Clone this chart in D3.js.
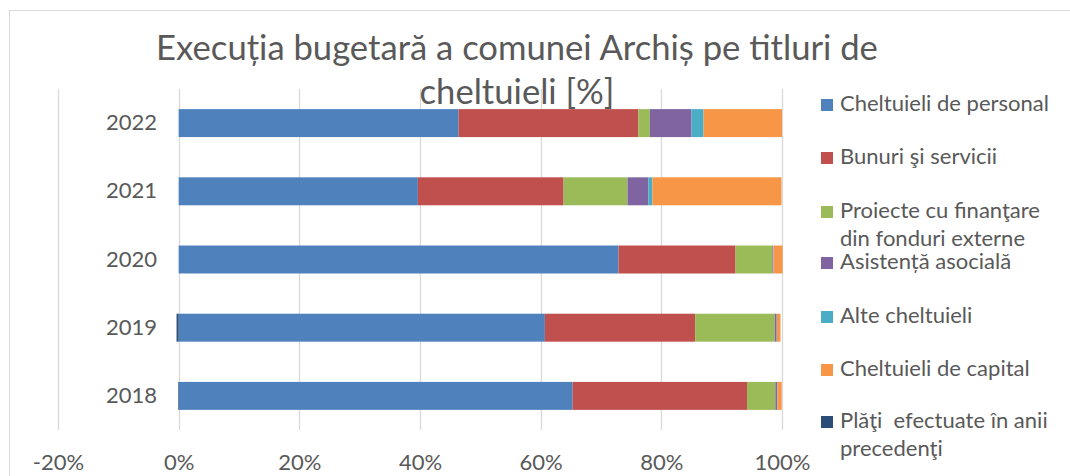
<!DOCTYPE html>
<html>
<head>
<meta charset="utf-8">
<script src="https://cdn.jsdelivr.net/npm/d3@7"></script>
<style>
  html, body { margin: 0; padding: 0; background: #fff; }
  svg { display: block; }
  text { font-family: Lato, "Noto Sans", sans-serif; fill: #595959; }
</style>
</head>
<body>
<svg id="chart" width="1070" height="476"></svg>
<script>
// ---- data ----
const years = ["2018", "2019", "2020", "2021", "2022"];
const seriesNames = [
  "Cheltuieli de personal",
  "Bunuri şi servicii",
  "Proiecte cu finanţare din fonduri externe",
  "Asistență asocială",
  "Alte cheltuieli",
  "Cheltuieli de capital",
  "Plăţi  efectuate în anii precedenţi"
];
const legendLines = [
  ["Cheltuieli de personal"],
  ["Bunuri şi servicii"],
  ["Proiecte cu finanţare", "din fonduri externe"],
  ["Asistență asocială"],
  ["Alte cheltuieli"],
  ["Cheltuieli de capital"],
  ["Plăţi  efectuate în anii", "precedenţi"]
];
const personal  = [65.3, 60.7, 72.9, 39.65, 46.4];
const bunuri    = [28.9, 24.9, 19.4, 24.15, 29.8];
const proiecte  = [4.7, 13.2, 6.1, 10.6, 1.9];
const asistenta = [0.3, 0.3, 0.15, 3.45, 6.9];
const alte      = [0.05, 0.05, 0.05, 0.67, 2.0];
const capital   = [0.7, 0.6, 1.5, 21.4, 13.0];
const plati     = [-0.1, -0.35, 0, 0, 0];
const xTicks = [-20, 0, 20, 40, 60, 80, 100];
const titleLines = ["Execuția bugetară a comunei Archiș pe titluri de", "cheltuieli [%]"];
const colors = ["#4F81BD", "#C0504D", "#9BBB59", "#8064A2", "#4BACC6", "#F79646", "#2C4D75"];

// ---- build table ----
const seriesArrays = [personal, bunuri, proiecte, asistenta, alte, capital, plati];
const table = years.map((y, i) => {
  const row = { year: y };
  seriesNames.forEach((s, k) => row[s] = seriesArrays[k][i]);
  return row;
});
const stacked = d3.stack().keys(seriesNames).offset(d3.stackOffsetDiverging)(table);

// ---- layout ----
const svg = d3.select("#chart");
const plot = { left: 58, right: 782, top: 89, bottom: 430 };

svg.append("rect")
  .attr("x", 9.5).attr("y", 10.5).attr("width", 1100).attr("height", 500)
  .attr("fill", "none").attr("stroke", "#D9D9D9").attr("stroke-width", 1);

const x = d3.scaleLinear().domain([-20, 100]).range([plot.left, plot.right]);
const y = d3.scaleBand().domain(years.slice().reverse())
  .range([plot.top, plot.bottom]).paddingInner(0.59).paddingOuter(0.295);

// gridlines
svg.append("g").selectAll("line").data(xTicks).join("line")
  .attr("x1", d => Math.round(x(d)) + 0.5).attr("x2", d => Math.round(x(d)) + 0.5)
  .attr("y1", plot.top).attr("y2", plot.bottom)
  .attr("stroke", "#D9D9D9").attr("stroke-width", 1.3);

// bars
svg.append("g").selectAll("g").data(stacked).join("g")
  .attr("fill", (d, i) => colors[i])
  .selectAll("rect").data(d => d).join("rect")
  .attr("x", d => x(Math.min(d[0], d[1])))
  .attr("width", d => Math.abs(x(d[1]) - x(d[0])))
  .attr("y", d => y(d.data.year))
  .attr("height", y.bandwidth());

// axes
const xAxis = svg.append("g").attr("transform", `translate(0,${plot.bottom})`)
  .call(d3.axisBottom(x).tickValues(xTicks).tickFormat(d => d + "%").tickSize(0).tickPadding(24));
xAxis.select(".domain").remove();
xAxis.selectAll("text").attr("font-size", 19).attr("fill", "#595959")
  .style("font-family", "Lato, 'Noto Sans', sans-serif");

const yAxis = svg.append("g").attr("transform", `translate(${plot.left + 99},0)`)
  .call(d3.axisLeft(y).tickSize(0).tickPadding(0));
yAxis.select(".domain").remove();
yAxis.selectAll("text").attr("font-size", 19).attr("fill", "#595959")
  .style("font-family", "Lato, 'Noto Sans', sans-serif");

// title
const title = svg.append("g");
titleLines.forEach((t, i) => {
  title.append("text").attr("x", 517).attr("y", 60 + i * 44)
    .attr("text-anchor", "middle").attr("font-size", 32).text(t);
});
(function () {
  const first = title.select("text").node();
  const w = first.getComputedTextLength();
  const fs = 32 * 722 / w;
  title.selectAll("text").attr("font-size", fs);
})();

// legend
const legendY = [111, 164, 218, 269, 323, 376, 428];
const leg = svg.append("g");
legendLines.forEach((lines, i) => {
  leg.append("rect").attr("x", 821).attr("y", legendY[i] - 12)
    .attr("width", 12).attr("height", 12).attr("fill", colors[i]);
  lines.forEach((l, j) => {
    leg.append("text").attr("x", 840).attr("y", legendY[i] + j * 28)
      .attr("font-size", 19).attr("xml:space", "preserve").style("white-space", "pre").text(l);
  });
});
(function () {
  const first = leg.select("text").node();
  const w = first.getComputedTextLength();
  const fs = 19 * 209 / w;
  leg.selectAll("text").attr("font-size", fs);
  xAxis.selectAll("text").attr("font-size", fs);
  yAxis.selectAll("text").attr("font-size", fs);
})();
</script>
</body>
</html>
